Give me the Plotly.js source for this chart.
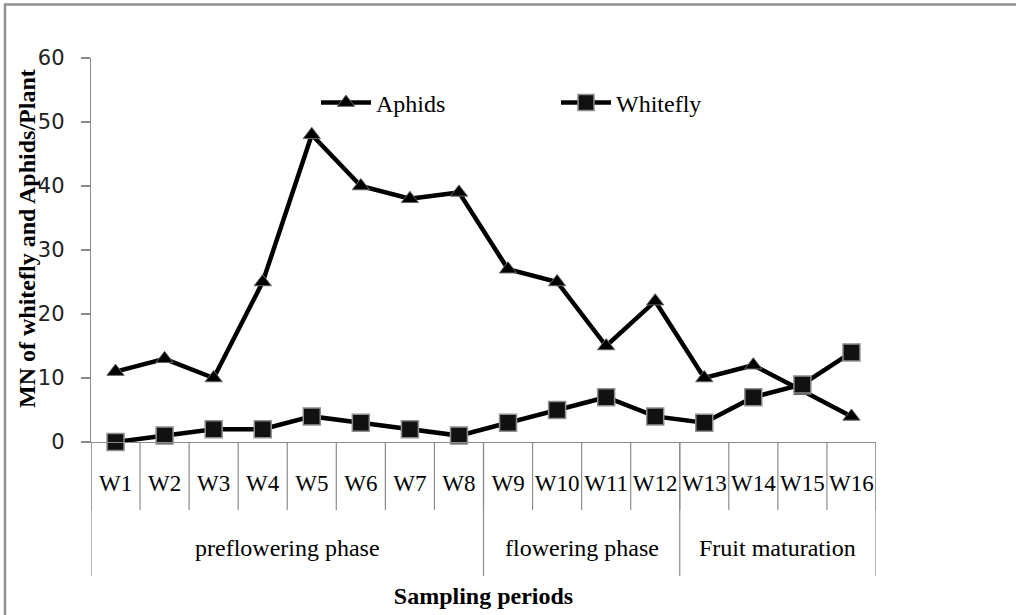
<!DOCTYPE html>
<html>
<head>
<meta charset="utf-8">
<script src="https://cdn.plot.ly/plotly-3.0.1.min.js"></script>
<style>html,body{margin:0;padding:0;background:#fff;} #chart{width:1016px;height:615px;}</style>
</head>
<body>
<div id="chart"></div>
<script>
const weeks = ["W1","W2","W3","W4","W5","W6","W7","W8","W9","W10","W11","W12","W13","W14","W15","W16"];
const aphids = [11, 13, 10, 25, 48, 40, 38, 39, 27, 25, 15, 22, 10, 12, 8, 4];
const whitefly = [0, 1, 2, 2, 4, 3, 2, 1, 3, 5, 7, 4, 3, 7, 9, 14];
const phaseNames = ["preflowering phase", "flowering phase", "Fruit maturation"];
const phaseStart = [0, 8, 12];   // index of first week in each phase
const phaseEnd = [7, 11, 15];    // index of last week in each phase
const yTitle = "MN of whitefly and Aphids/Plant";
const xTitle = "Sampling periods";

const L = 91, R = 876, T = 58, B = 442;
const W = 1016, H = 615;
const pw = R - L, ph = B - T;
const px = v => (v - L) / pw;
const py = v => (B - v) / ph;

const serif = "'Liberation Serif', 'Times New Roman', serif";
const gray = "#8c8c8c";

const shapes = [];
// short separators between weeks
for (let i = 0; i <= weeks.length; i++) {
  shapes.push({type: "line", xref: "x", yref: "paper", x0: i - 0.5, x1: i - 0.5,
    y0: 0, y1: py(510), line: {color: gray, width: 1.2}});
}
// long separators between phases
const bounds = [phaseStart[0] - 0.5].concat(phaseEnd.map(e => e + 0.5));
bounds.forEach(b => shapes.push({type: "line", xref: "x", yref: "paper", x0: b, x1: b,
  y0: 0, y1: py(576), line: {color: gray, width: 1.2}}));
// outer frame
shapes.push({type: "rect", xref: "paper", yref: "paper", x0: px(5), x1: px(1030), y0: py(4.5), y1: py(630),
  line: {color: "#909090", width: 2.5}, fillcolor: "rgba(0,0,0,0)", layer: "below"});

const annotations = phaseNames.map((n, k) => ({
  xref: "x", yref: "paper", x: (phaseStart[k] + phaseEnd[k]) / 2, y: py(548),
  text: n, showarrow: false, xanchor: "center", yanchor: "middle",
  font: {family: serif, size: 24, color: "#000"}
}));
annotations.push({
  xref: "paper", yref: "paper", x: px(27), y: py(239), text: "<b>" + yTitle + "</b>",
  textangle: -90, showarrow: false, xanchor: "center", yanchor: "middle",
  font: {family: serif, size: 24, color: "#000"}
});

const traces = [
  {x: weeks, y: aphids, name: "Aphids", type: "scatter", mode: "lines+markers", cliponaxis: false,
   line: {color: "#000", width: 4.5},
   marker: {symbol: "triangle-up", size: 15, color: "#000", line: {color: "#666", width: 1}}},
  {x: weeks, y: whitefly, name: "Whitefly", type: "scatter", mode: "lines+markers", cliponaxis: false,
   line: {color: "#000", width: 4.5},
   marker: {symbol: "square", size: 17, color: "#111", line: {color: "#909090", width: 1.5}}}
];

const layout = {
  width: W, height: H,
  margin: {l: L, r: W - R, t: T, b: H - B, pad: 0},
  paper_bgcolor: "#fff", plot_bgcolor: "#fff",
  showlegend: true,
  legend: {orientation: "h", x: px(316), y: py(103), xanchor: "left", yanchor: "middle",
    entrywidth: 175, entrywidthmode: "pixels", itemwidth: 50,
    font: {family: serif, size: 24, color: "#000"}, bgcolor: "rgba(0,0,0,0)"},
  xaxis: {type: "category", showgrid: false, zeroline: false, showline: true, linecolor: gray, linewidth: 1.2,
    ticks: "", ticklabelstandoff: 20, tickfont: {family: serif, size: 23, color: "#000"},
    range: [-0.5, weeks.length - 0.5],
    title: {text: "<b>" + xTitle + "</b>", standoff: 92, font: {family: serif, size: 24, color: "#000"}}},
  yaxis: {range: [0, 60], dtick: 10, showgrid: false, zeroline: false, showline: true, linecolor: gray, linewidth: 1.2,
    ticks: "outside", ticklen: 9, tickcolor: gray, tickwidth: 1.2, ticklabelstandoff: 12,
    tickfont: {family: "DejaVu Sans, sans-serif", size: 21, color: "#222"}},
  shapes: shapes,
  annotations: annotations
};

Plotly.newPlot("chart", traces, layout, {displayModeBar: false, staticPlot: true});
</script>
</body>
</html>
